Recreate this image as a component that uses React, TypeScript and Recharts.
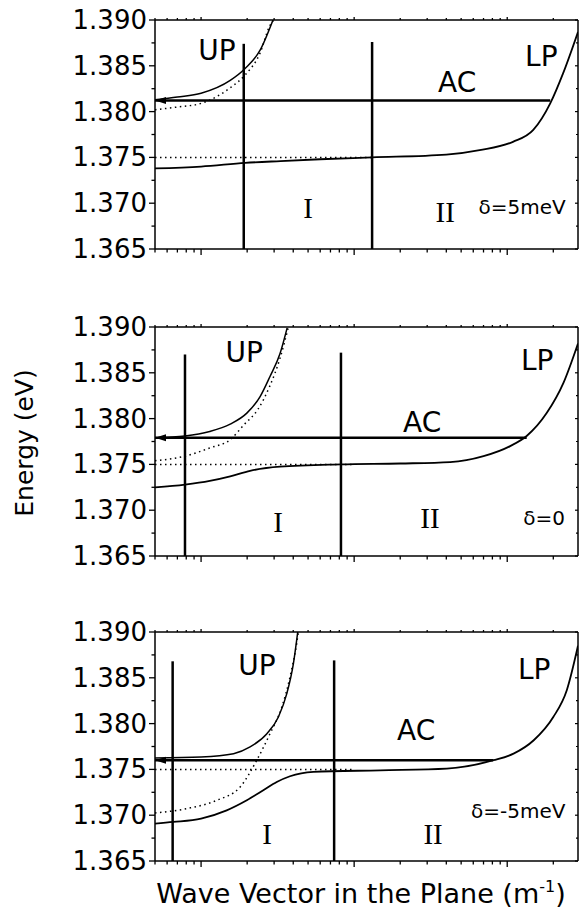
import React from "react";
import { LineChart, Line, XAxis, YAxis, ReferenceDot } from "recharts";

type Pt = [number, number];

// axis ticks (wave vector on a log scale, energy in eV)
const xMajorTicks = [1e5, 1e6, 1e7];
const xMinorTicks = [
  5e4, 6e4, 7e4, 8e4, 9e4, 2e5, 3e5, 4e5, 5e5, 6e5, 7e5, 8e5, 9e5,
  2e6, 3e6, 4e6, 5e6, 6e6, 7e6, 8e6, 9e6, 2e7,
];
const yMajorTicks = [1.365, 1.37, 1.375, 1.38, 1.385, 1.39];
const yMinorTicks = [1.3675, 1.3725, 1.3775, 1.3825, 1.3875];

// delta = 5 meV
const up5: Pt[] = [[5e4, 1.3813], [7e4, 1.3816], [1e5, 1.382], [1.55e5, 1.3834], [1.94e5, 1.3847], [2.43e5, 1.3867], [2.95e5, 1.39]];
const photon5: Pt[] = [[5e4, 1.3802], [7e4, 1.3805], [1e5, 1.3809], [1.55e5, 1.3826], [1.94e5, 1.384], [2.43e5, 1.3864], [2.8e5, 1.3893], [2.98e5, 1.39]];
const exciton5: Pt[] = [[5e4, 1.375], [1.3e6, 1.375]];
const lp5: Pt[] = [[5e4, 1.3738], [1e5, 1.374], [1.94e5, 1.3744], [3.3e5, 1.3746], [6e5, 1.3748], [1.31e6, 1.375], [4e6, 1.3753], [6.6e6, 1.3758], [1.09e7, 1.3767], [1.48e7, 1.378], [1.91e7, 1.3809], [2.32e7, 1.3842], [2.9e7, 1.3887]];
const ac5: Pt[] = [[5e4, 1.3812], [1.91e7, 1.3812]];
const cuts5: Pt[] = [[1.9e5, 1.3874], [1.31e6, 1.3876]];

// delta = 0
const up0: Pt[] = [[5e4, 1.3779], [7.85e4, 1.3781], [1.14e5, 1.3786], [1.55e5, 1.3794], [1.99e5, 1.3806], [2.43e5, 1.3824], [2.82e5, 1.3846], [3.28e5, 1.3871], [3.65e5, 1.3899]];
const photon0: Pt[] = [[5e4, 1.3754], [7.85e4, 1.3759], [1.14e5, 1.3768], [1.55e5, 1.3777], [1.9e5, 1.3793], [2.35e5, 1.381], [2.82e5, 1.3836], [3.28e5, 1.3866], [3.72e5, 1.39]];
const exciton0: Pt[] = [[5e4, 1.375], [1e6, 1.375]];
const lp0: Pt[] = [[5e4, 1.3725], [7.85e4, 1.3728], [1.14e5, 1.3732], [1.55e5, 1.3737], [2.09e5, 1.3743], [3.28e5, 1.37475], [8.2e5, 1.375], [2e6, 1.3751], [4.24e6, 1.37525], [7e6, 1.3759], [1.045e7, 1.377], [1.34e7, 1.3781], [1.81e7, 1.3806], [2.33e7, 1.3839], [2.9e7, 1.3882]];
const ac0: Pt[] = [[5e4, 1.3779], [1.34e7, 1.3779]];
const cuts0: Pt[] = [[7.85e4, 1.387], [8.2e5, 1.3872]];

// delta = -5 meV
const upM5: Pt[] = [[5e4, 1.37625], [1e5, 1.37636], [1.63e5, 1.37672], [2.09e5, 1.37745], [2.69e5, 1.3789], [3.2e5, 1.38072], [3.63e5, 1.38327], [4.01e5, 1.38655], [4.28e5, 1.39]];
const photonM5: Pt[] = [[5e4, 1.37024], [8.05e4, 1.37072], [1.27e5, 1.37163], [1.8e5, 1.37308], [2.31e5, 1.376], [2.82e5, 1.3789], [3.37e5, 1.38181], [3.81e5, 1.38509], [4.21e5, 1.38873], [4.32e5, 1.39]];
const excitonM5: Pt[] = [[5e4, 1.375], [1e6, 1.375]];
const lpM5: Pt[] = [[5e4, 1.36908], [6.59e4, 1.36926], [1e5, 1.36963], [1.47e5, 1.37053], [1.99e5, 1.37163], [2.55e5, 1.37272], [3.12e5, 1.37362], [3.81e5, 1.37425], [5.42e5, 1.37472], [1.48e6, 1.3749], [4.03e6, 1.37509], [8.13e6, 1.376], [1.1e7, 1.37672], [1.49e7, 1.37818], [2e7, 1.38072], [2.45e7, 1.38364], [2.9e7, 1.3885]];
const acM5: Pt[] = [[5e4, 1.376], [8.1e6, 1.376]];
const cutsM5: Pt[] = [[6.52e4, 1.3868], [7.4e5, 1.3869]];

const X_DOMAIN = [5e4, 2.9e7];
const Y_DOMAIN = [1.365, 1.39];
const xTicks = [...xMajorTicks, ...xMinorTicks].sort((a, b) => a - b);
const yTicks = [...yMajorTicks, ...yMinorTicks].sort((a, b) => a - b);

type Lab = { text: string; k: number; e: number; kind: "sans" | "roman" | "small" };

const panels = [
  {
    top: 6, up: up5, photon: photon5, exciton: exciton5, lp: lp5, ac: ac5, cuts: cuts5,
    labels: [
      { text: "UP", k: 1.27e5, e: 1.3867, kind: "sans" },
      { text: "AC", k: 4.71e6, e: 1.3832, kind: "sans" },
      { text: "LP", k: 1.67e7, e: 1.386, kind: "sans" },
      { text: "I", k: 5.0e5, e: 1.3695, kind: "roman" },
      { text: "II", k: 3.93e6, e: 1.369, kind: "roman" },
      { text: "δ=5meV", k: 1.25e7, e: 1.3696, kind: "small" },
    ] as Lab[],
  },
  {
    top: 313, up: up0, photon: photon0, exciton: exciton0, lp: lp0, ac: ac0, cuts: cuts0,
    labels: [
      { text: "UP", k: 1.91e5, e: 1.3872, kind: "sans" },
      { text: "AC", k: 2.78e6, e: 1.3796, kind: "sans" },
      { text: "LP", k: 1.57e7, e: 1.3863, kind: "sans" },
      { text: "I", k: 3.18e5, e: 1.3687, kind: "roman" },
      { text: "II", k: 3.13e6, e: 1.3692, kind: "roman" },
      { text: "δ=0", k: 1.74e7, e: 1.3691, kind: "small" },
    ] as Lab[],
  },
  {
    top: 618, up: upM5, photon: photonM5, exciton: excitonM5, lp: lpM5, ac: acM5, cuts: cutsM5,
    labels: [
      { text: "UP", k: 2.32e5, e: 1.3863, kind: "sans" },
      { text: "AC", k: 2.54e6, e: 1.3792, kind: "sans" },
      { text: "LP", k: 1.5e7, e: 1.3859, kind: "sans" },
      { text: "I", k: 2.7e5, e: 1.3679, kind: "roman" },
      { text: "II", k: 3.28e6, e: 1.3679, kind: "roman" },
      { text: "δ=-5meV", k: 1.18e7, e: 1.3705, kind: "small" },
    ] as Lab[],
  },
];

const SANS = "'DejaVu Sans', sans-serif";
const SERIF = "'Liberation Serif', 'Times New Roman', serif";

const rows = (pts: Pt[]) => pts.map(([k, e]) => ({ k, e }));

const XTick = ({ x, y, payload, dir }: any) => {
  const major = xMajorTicks.includes(payload.value);
  const len = dir > 0 ? (major ? 6 : 3.5) : major ? -3 : -2;
  return <line x1={x} x2={x} y1={y} y2={y + len} stroke="#000" strokeWidth={1.3} />;
};

const YTickLeft = ({ x, y, payload }: any) => {
  const major = yMajorTicks.includes(payload.value);
  return (
    <g>
      <line x1={x - (major ? 6 : 3.5)} x2={x} y1={y} y2={y} stroke="#000" strokeWidth={1.3} />
      {major && (
        <text x={x - 8} y={y} textAnchor="end" dominantBaseline="central" fontSize={26} fontFamily={SANS} fill="#000">
          {payload.value.toFixed(3)}
        </text>
      )}
    </g>
  );
};

const YTickRight = ({ x, y, payload }: any) => {
  const major = yMajorTicks.includes(payload.value);
  return <line x1={x - (major ? 3 : 2)} x2={x} y1={y} y2={y} stroke="#000" strokeWidth={1.2} />;
};

const ArrowDot = (p: any) =>
  p.index === 0 ? (
    <polygon key="arrow" points={`${p.cx},${p.cy} ${p.cx + 11},${p.cy - 3.5} ${p.cx + 11},${p.cy + 3.5}`} fill="#000" />
  ) : (
    <g key={`d${p.index}`} />
  );

const axisLine = { stroke: "#000", strokeWidth: 1.5 };

function Panel({ p }: { p: (typeof panels)[number] }) {
  return (
    <div style={{ position: "absolute", left: 0, top: p.top }}>
      <LineChart width={579} height={273} margin={{ top: 8, right: 0, bottom: 0, left: 0 }}>
        <XAxis xAxisId="b" type="number" dataKey="k" scale="log" domain={X_DOMAIN} allowDataOverflow
          ticks={xTicks} interval={0} tickLine={false} tickSize={0} tickMargin={0} height={30}
          axisLine={axisLine} tick={(t: any) => <XTick {...t} dir={1} />} />
        <XAxis xAxisId="t" orientation="top" type="number" dataKey="k" scale="log" domain={X_DOMAIN} allowDataOverflow
          ticks={xTicks} interval={0} tickLine={false} tickSize={0} tickMargin={0} height={6}
          axisLine={axisLine} tick={(t: any) => <XTick {...t} dir={-1} />} />
        <YAxis yAxisId="l" type="number" domain={Y_DOMAIN} allowDataOverflow ticks={yTicks} interval={0}
          tickLine={false} tickSize={0} tickMargin={0} width={155} axisLine={axisLine} tick={<YTickLeft />} />
        <YAxis yAxisId="r" orientation="right" type="number" domain={Y_DOMAIN} allowDataOverflow ticks={yTicks} interval={0}
          tickLine={false} tickSize={0} tickMargin={0} width={1} axisLine={axisLine} tick={<YTickRight />} />

        <Line xAxisId="b" yAxisId="l" data={rows(p.exciton)} dataKey="e" type="linear" stroke="#000"
          strokeWidth={1.5} strokeDasharray="1.5 3.5" dot={false} isAnimationActive={false} />
        <Line xAxisId="b" yAxisId="l" data={rows(p.photon)} dataKey="e" type="monotone" stroke="#000"
          strokeWidth={1.5} strokeDasharray="1.5 3.5" dot={false} isAnimationActive={false} />
        <Line xAxisId="b" yAxisId="l" data={rows(p.up)} dataKey="e" type="monotone" stroke="#000"
          strokeWidth={1.5} dot={false} isAnimationActive={false} />
        <Line xAxisId="b" yAxisId="l" data={rows(p.lp)} dataKey="e" type="monotone" stroke="#000"
          strokeWidth={1.8} dot={false} isAnimationActive={false} />
        <Line xAxisId="b" yAxisId="l" data={rows(p.ac)} dataKey="e" type="linear" stroke="#000"
          strokeWidth={2.5} dot={ArrowDot} isAnimationActive={false} />
        {p.cuts.map(([k, top], i) => (
          <Line key={`cut${i}`} xAxisId="b" yAxisId="l" data={[{ k, e: top }, { k, e: Y_DOMAIN[0] }]} dataKey="e"
            type="linear" stroke="#000" strokeWidth={2.5} dot={false} isAnimationActive={false} />
        ))}
        {p.labels.map((lab, i) => (
          <ReferenceDot key={`lab${i}`} xAxisId="b" yAxisId="l" x={lab.k} y={lab.e} r={0} ifOverflow="visible"
            shape={(s: any) => (
              <text x={s.cx} y={s.cy} textAnchor="middle" dominantBaseline="central" fill="#000"
                fontFamily={lab.kind === "roman" ? SERIF : SANS}
                fontSize={lab.kind === "roman" ? 29 : lab.kind === "small" ? 20 : 28}>
                {lab.text}
              </text>
            )} />
        ))}
      </LineChart>
    </div>
  );
}

export default function App() {
  return (
    <div style={{ position: "absolute", left: 0, top: 0, width: 579, height: 913, background: "#fff" }}>
      {panels.map((p, i) => (
        <Panel key={i} p={p} />
      ))}
      <svg width={579} height={913} style={{ position: "absolute", left: 0, top: 0, pointerEvents: "none" }}>
        <text x={33} y={443} transform="rotate(-90 33 443)" textAnchor="middle" fontSize={25} fontFamily={SANS} fill="#000">
          Energy (eV)
        </text>
        <text x={361} y={903} textAnchor="middle" fontSize={27} fontFamily={SANS} fill="#000">
          Wave Vector in the Plane (m
          <tspan dy={-11} fontSize={16}>-1</tspan>
          <tspan dy={11}>)</tspan>
        </text>
      </svg>
    </div>
  );
}
